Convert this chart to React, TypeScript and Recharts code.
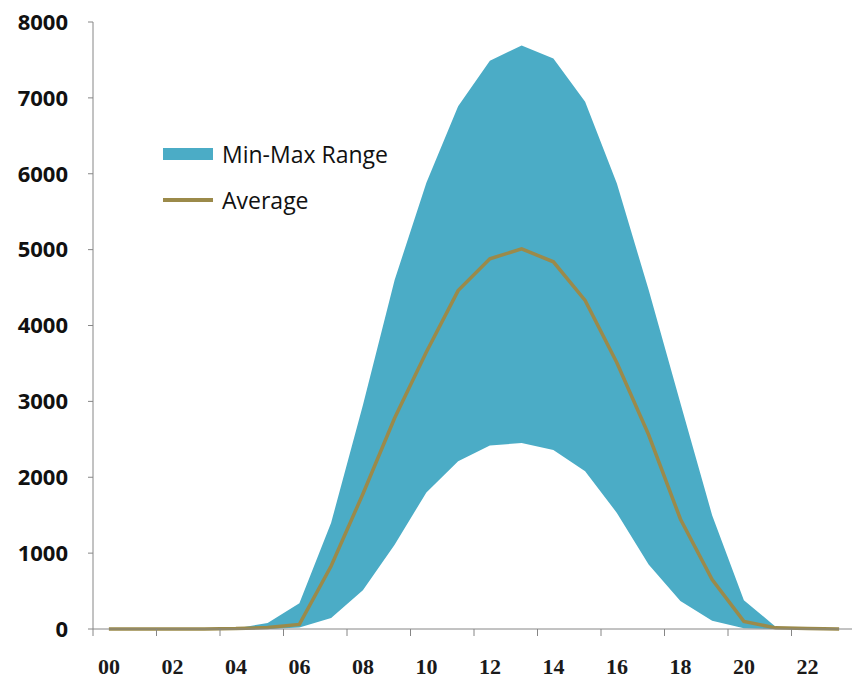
import React from 'react';
import { ComposedChart, Area, Line, XAxis, YAxis } from 'recharts';

const hours = [
  '00', '01', '02', '03', '04', '05', '06', '07', '08', '09', '10', '11',
  '12', '13', '14', '15', '16', '17', '18', '19', '20', '21', '22', '23',
];
const maxValues = [
  0, 0, 0, 0, 5, 80, 340, 1400, 2950, 4600, 5880, 6890,
  7490, 7690, 7520, 6950, 5870, 4470, 2980, 1500, 380, 30, 0, 0,
];
const minValues = [
  0, 0, 0, 0, 0, 0, 20, 145, 510, 1110, 1800, 2210,
  2420, 2450, 2360, 2080, 1530, 850, 370, 110, 10, 0, 0, 0,
];
const avgValues = [
  0, 0, 0, 0, 5, 20, 60, 830, 1780, 2780, 3650, 4460,
  4880, 5010, 4840, 4330, 3510, 2560, 1450, 650, 100, 15, 5, 0,
];
const yTicks = [0, 1000, 2000, 3000, 4000, 5000, 6000, 7000, 8000];
// tick marks sit on category boundaries, every second hour
const xTicks = [-0.5, 1.5, 3.5, 5.5, 7.5, 9.5, 11.5, 13.5, 15.5, 17.5, 19.5, 21.5, 23.5];

const rows = hours.map((h, i) => ({
  x: i,
  hour: h,
  range: [minValues[i], maxValues[i]],
  avg: avgValues[i],
}));

const CHART_W = 855;
const Y_AXIS_W = 93;
const CAT_W = (CHART_W - Y_AXIS_W) / hours.length;

const AREA_COLOR = '#4bacc6';
const AVG_COLOR = '#9b8a4a';
const AXIS_COLOR = '#868686';

function HourTick(props: any) {
  const { x, y, payload } = props;
  const idx = payload.value + 0.5;
  if (idx >= hours.length) return null;
  return (
    <text
      x={x + CAT_W / 2}
      y={y}
      dy={36}
      textAnchor="middle"
      fill="#1a1a1a"
      fontSize={22}
      fontWeight={700}
      fontFamily="'Liberation Serif', serif"
    >
      {hours[idx]}
    </text>
  );
}

function ChartLegend() {
  const text = { fontFamily: "'Open Sans', sans-serif", fontSize: 23, color: '#111', marginLeft: 9 };
  return (
    <div style={{ position: 'absolute', left: 163, top: 131 }}>
      <div style={{ display: 'flex', alignItems: 'center', height: 46 }}>
        <svg width={50} height={12}>
          <rect width={50} height={12} fill={AREA_COLOR} />
        </svg>
        <span style={text}>Min-Max Range</span>
      </div>
      <div style={{ display: 'flex', alignItems: 'center', height: 46 }}>
        <svg width={50} height={6}>
          <line x1={0} y1={3} x2={50} y2={3} stroke={AVG_COLOR} strokeWidth={4} />
        </svg>
        <span style={text}>Average</span>
      </div>
    </div>
  );
}

export default function App() {
  return (
    <div
      style={{
        position: 'absolute',
        left: 0,
        top: 0,
        width: 852,
        height: 682,
        overflow: 'hidden',
        background: '#fff',
      }}
    >
      <ComposedChart
        width={CHART_W}
        height={682}
        data={rows}
        margin={{ top: 22, right: 0, bottom: 0, left: 0 }}
      >
        <XAxis
          type="number"
          dataKey="x"
          domain={[-0.5, 23.5]}
          ticks={xTicks}
          interval={0}
          tick={<HourTick />}
          tickSize={7}
          height={53}
          stroke={AXIS_COLOR}
        />
        <YAxis
          domain={[0, 8000]}
          ticks={yTicks}
          width={Y_AXIS_W}
          tickSize={5}
          tickMargin={20}
          stroke={AXIS_COLOR}
          tick={{ fill: '#111', fontSize: 22, fontWeight: 700, fontFamily: "'Open Sans', sans-serif" }}
        />
        <Area
          type="linear"
          dataKey="range"
          fill={AREA_COLOR}
          fillOpacity={1}
          stroke="none"
          isAnimationActive={false}
        />
        <Line
          type="linear"
          dataKey="avg"
          stroke={AVG_COLOR}
          strokeWidth={3.5}
          dot={false}
          isAnimationActive={false}
        />
      </ComposedChart>
      <ChartLegend />
    </div>
  );
}
